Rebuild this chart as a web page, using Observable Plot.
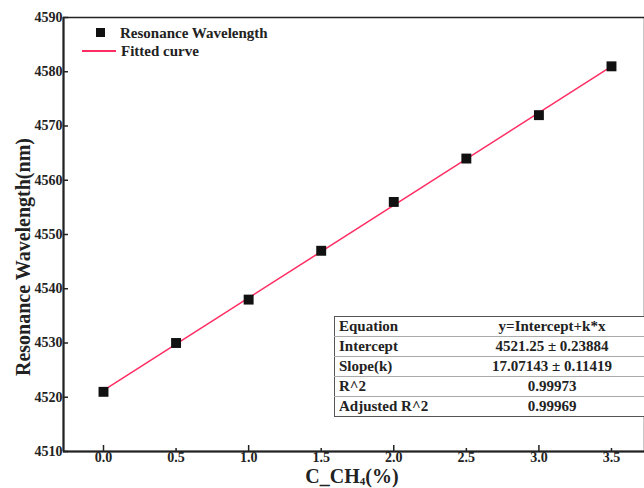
<!DOCTYPE html>
<html><head><meta charset="utf-8">
<script src="https://cdn.jsdelivr.net/npm/d3@7"></script>
<script src="https://cdn.jsdelivr.net/npm/@observablehq/plot@0.6"></script>
<style>
html,body{margin:0;padding:0;background:#fff;overflow:hidden;}
#wrap{position:relative;width:644px;height:488px;font-family:"Liberation Serif","Times New Roman",serif;font-weight:bold;color:#222;}
#wrap svg text{font-weight:bold;}
.leg{position:absolute;font-size:15px;color:#222;white-space:nowrap;}
#tbl{position:absolute;left:334px;top:316px;width:320px;border:1px solid #555;border-collapse:collapse;font-size:15px;color:#222;background:#fff;table-layout:fixed;}
#tbl td{height:19px;padding:0 0 0 4px;border-top:1px solid #aaa;line-height:19px;}
#tbl tr:first-child td{border-top:none;}
#tbl td.k{width:112px;}
#tbl td.v{text-align:center;padding:0;}
</style></head>
<body><div id="wrap"></div>
<script>
const concentration = [0.0, 0.5, 1.0, 1.5, 2.0, 2.5, 3.0, 3.5];
const wavelength = [4521, 4530, 4538, 4547, 4556, 4564, 4572, 4581];
const fitX = [0.0, 3.5];
const fitY = [4521.25, 4581.0];
const yTicks = [4510, 4520, 4530, 4540, 4550, 4560, 4570, 4580, 4590];
const xTicks = [0.0, 0.5, 1.0, 1.5, 2.0, 2.5, 3.0, 3.5];
const xMajor = [0, 1, 2, 3];
const tableLabels = ["Equation", "Intercept", "Slope(k)", "R^2", "Adjusted R^2"];
const tableValues = ["y=Intercept+k*x", "4521.25 \u00b1 0.23884", "17.07143 \u00b1 0.11419", "0.99973", "0.99969"];
const legendLabels = ["Resonance Wavelength", "Fitted curve"];
const yTitle = "Resonance Wavelength(nm)";

const pts = concentration.map((c, i) => ({c, w: wavelength[i]}));
const fit = fitX.map((c, i) => ({c, w: fitY[i]}));
const red = "#ff2d62";
const blank = () => "";

const chart = Plot.plot({
  width: 644, height: 488,
  marginLeft: 63, marginTop: 17, marginBottom: 37, marginRight: 0,
  style: {fontFamily: "Liberation Serif, Times New Roman, serif", fontWeight: "bold", fontSize: "14px", color: "#222", background: "#fff"},
  x: {domain: [-0.2756, 3.7275]},
  y: {domain: [4510, 4590]},
  marks: [
    Plot.frame({stroke: "#222", strokeWidth: 1.5}),
    Plot.axisY({ticks: yTicks, tickSize: 0, tickPadding: 1, tickFormat: d => String(d), label: null, fontSize: 14}),
    Plot.axisY({ticks: yTicks, tickSize: -5, strokeWidth: 1.5, tickFormat: blank, label: null}),
    Plot.axisX({ticks: xTicks, tickSize: 0, tickPadding: 1, tickFormat: d3.format(".1f"), label: null, fontSize: 14}),
    Plot.axisX({ticks: xTicks.filter(t => !xMajor.includes(t)), tickSize: -3, strokeWidth: 1.5, tickFormat: blank, label: null}),
    Plot.axisX({ticks: xMajor, tickSize: -6, strokeWidth: 1.5, tickFormat: blank, label: null}),
    Plot.ruleY([4510], {stroke: "#222", strokeWidth: 2}),
    Plot.ruleX([-0.2756], {stroke: "#222", strokeWidth: 2}),
    Plot.line(fit, {x: "c", y: "w", stroke: red, strokeWidth: 1.5}),
    Plot.dot(pts, {x: "c", y: "w", symbol: "square", r: 5.6, fill: "#111", stroke: "none"})
  ]
});
const wrap = document.getElementById("wrap");
wrap.appendChild(chart);

// y title
const yt = document.createElement("div");
yt.className = "leg";
yt.style.cssText = "left:23px;top:257px;font-size:20px;line-height:20px;transform:translate(-50%,-50%) rotate(-90deg);";
yt.textContent = yTitle;
wrap.appendChild(yt);

// x title
const xt = document.createElement("div");
xt.className = "leg";
xt.style.cssText = "left:0;width:704px;text-align:center;top:465px;font-size:20px;line-height:normal;";
xt.innerHTML = "C_CH<sub style='font-size:11px;line-height:0;vertical-align:-2px'>4</sub>(%)";
wrap.appendChild(xt);

// legend
const l1 = document.createElement("div");
l1.className = "leg";
l1.style.cssText = "left:96px;top:25px;";
l1.innerHTML = "<span style='display:inline-block;width:9px;height:9px;background:#111;margin-right:15px;vertical-align:1px;'></span>" + legendLabels[0];
wrap.appendChild(l1);
const l2 = document.createElement("div");
l2.className = "leg";
l2.style.cssText = "left:82px;top:43px;";
l2.innerHTML = "<span style='display:inline-block;width:34px;height:2px;background:" + red + ";vertical-align:4px;margin-right:5px;'></span>" + legendLabels[1];
wrap.appendChild(l2);

// table
const tbl = document.createElement("table");
tbl.id = "tbl";
tbl.innerHTML = tableLabels.map((l, i) => `<tr><td class="k">${l}</td><td class="v">${tableValues[i]}</td></tr>`).join("");
wrap.appendChild(tbl);
</script></body></html>
